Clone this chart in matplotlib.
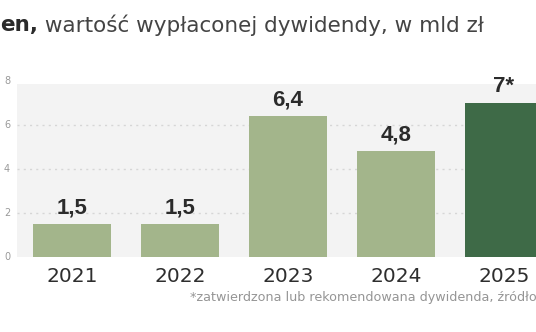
import matplotlib
matplotlib.use("Agg")
import matplotlib.pyplot as plt

years = ["2021", "2022", "2023", "2024", "2025"]
values = [1.5, 1.5, 6.4, 4.8, 7.0]
value_labels = ["1,5", "1,5", "6,4", "4,8", "7*"]
yticks = [0, 2, 4, 6, 8]
title_bold = "en,"
title_rest = " wartość wypłaconej dywidendy, w mld zł"
footnote = "*zatwierdzona lub rekomendowana dywidenda, źródło"

W, H = 536, 332
fig = plt.figure(figsize=(W / 100, H / 100), dpi=100)
fig.patch.set_facecolor("white")

left, right, top, bottom = 17, 536, 84, 257
ax = fig.add_axes([left / W, 1 - bottom / H, (right - left) / W, (bottom - top) / H])
ax.set_facecolor("#f3f3f3")

pitch = 108.0
x0 = -(72 - left) / pitch
ax.set_xlim(x0, x0 + (right - left) / pitch)
ax.set_ylim(0, 8 * (bottom - top) / (257 - 81))

colors = ["#a3b58b"] * 4 + ["#3e6a47"]
xs = list(range(len(years)))
ax.bar(xs, values, width=0.715, color=colors, zorder=2)

for y in [2, 4, 6]:
    ax.axhline(y, color="#d6d6d6", lw=1.0, ls=(0, (1.5, 3)), zorder=1)

for s in ax.spines.values():
    s.set_visible(False)
ax.set_xticks([])
ax.set_yticks([])

for t in yticks:
    ax.text(x0 - 10 / pitch, t, str(t), ha="center", va="center",
            fontsize=7, color="#9a9a9a", clip_on=False)

for x, v, lab in zip(xs, values, value_labels):
    ax.annotate(lab, (x, v), xytext=(0, 4), textcoords="offset points",
                ha="center", va="bottom", fontsize=16, fontweight="bold",
                color="#2b2b2b", family=["Liberation Sans", "DejaVu Sans"],
                annotation_clip=False)
    ax.text(x, -0.45, years[x], ha="center", va="top",
            fontsize=14.5, color="#2e2e2e", clip_on=False)

t1 = fig.text(0 / W, 1 - 25 / H, title_bold, ha="left", va="center",
              fontsize=15.5, fontweight="bold", color="#2b2b2b")
fig.canvas.draw()
bb = t1.get_window_extent()
fig.text(bb.x1 / W, 1 - 25 / H, title_rest, ha="left", va="center",
         fontsize=15.5, color="#444444")

fig.text(190 / W, 1 - 298 / H, footnote, ha="left", va="center",
         fontsize=9.2, color="#959595")

fig.savefig("out.png", dpi=100)
